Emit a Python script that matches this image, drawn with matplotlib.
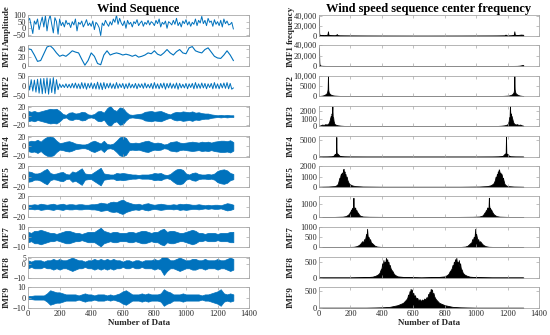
import numpy as np
import matplotlib
matplotlib.use("Agg")
import matplotlib.pyplot as plt
from matplotlib import ticker

plt.rcParams['font.family'] = ['Liberation Serif', 'DejaVu Serif']

# ---------------- data ----------------
# wind sequence, one value every 10 samples (0..1300)
wind = [60, 75, 20, -40, 55, 30, 70, -10, 40, 85,
        10, 95, -20, 60, 100, 30, -35, 80, 50, -45,
        70, 20, 45, 10, 60, 30, 40, 5, 50, 25,
        70, -20, 45, 30, 55, 10, 35, 65, 20, 40,
        15, 55, -10, 45, 30, 5, -55, 40, 20, 60,
        35, 15, 50, 25, 70, 45, 100, 30, 75, 40,
        20, 55, 0, 60, 30, 45, 10, 50, 35, 65,
        20, 40, 55, 15, 45, 30, 60, 25, 50, 40,
        20, 60, 35, 70, 10, 45, 30, 55, 0, 50,
        40, 25, 60, 30, 75, 20, 45, 10, 55, 35,
        65, 25, 50, 15, 45, 30, 70, 20, 60, 40,
        90, 35, 60, 20, 75, 45, 55, 15, 65, 30,
        50, 20, 60, 10, 70, 35, 55, 25, 30, 45,
        -5]

# IMF1, one value every 20 samples
imf1 = [40, 38, 25, 10, 12, 28, 44, 47, 40, 30, 22,
        25, 22, 28, 35, 32, 30, 15, 1, 12, 30, 22,
        5, 2, 25, 35, 25, 28, 30, 28, 25, 27, 25,
        22, 25, 20, 22, 25, 30, 28, 35, 27, 24, 30,
        38, 30, 25, 33, 38, 30, 28, 42, 45, 35, 32,
        30, 38, 42, 32, 22, 18, 17, 25, 35, 25, 12]

# IMF2 extrema, one every 10 samples
imf2 = [25, -20, 30, -25, 28, -30, 32, -35, 35, -38,
        36, -35, 38, -40, 35, -32, 40, -38, 30, -18,
        10, -8, 6, -8, 10, -9, 8, -10, 12, -10,
        14, -12, 10, -14, 16, -12, 14, -16, 12, -10,
        15, -14, 12, -15, 18, -16, 14, -18, 16, -14,
        12, -10, 14, -12, 10, -14, 16, -12, 10, -8,
        12, -14, 10, -12, 14, -10, 8, -10, 12, -14,
        10, -8, 10, -12, 14, -10, 8, -10, 12, -14,
        16, -12, 10, -14, 12, -10, 14, -16, 12, -10,
        14, -12, 10, -12, 14, -16, 12, -10, 8, -10,
        12, -14, 10, -8, 12, -14, 16, -12, 10, -12,
        14, -10, 12, -14, 10, -8, 12, -14, 16, -12,
        10, -14, 12, -10, 14, -12, 16, -14, 12, -16,
        -10]

# amplitude envelopes of the dense IMFs, one value every 20 samples
imf3_env = [12, 10, 12, 9, 11, 13, 15, 17, 16, 17, 12,
            5, 3, 8, 9, 6, 7, 10, 9, 4, 3, 5,
            11, 12, 8, 18, 24, 15, 12, 20, 19, 10, 4,
            3, 4, 5, 6, 10, 11, 12, 10, 11, 12, 9,
            6, 4, 8, 10, 9, 11, 10, 9, 11, 8, 9,
            7, 6, 6, 4, 3, 2, 3, 2, 3, 2, 2]
imf4_env = [10, 12, 11, 14, 10, 16, 20, 21, 19, 12, 7,
            8, 10, 11, 9, 6, 5, 4, 4, 6, 10, 12,
            9, 6, 12, 5, 4, 6, 12, 19, 21, 18, 8,
            7, 8, 7, 9, 11, 12, 9, 7, 8, 7, 4,
            5, 9, 10, 11, 8, 7, 8, 9, 10, 9, 8,
            10, 9, 10, 8, 10, 11, 12, 12, 11, 13, 9]
imf5_env = [10, 9, 6, 6, 8, 12, 15, 7, 5, 6, 8,
            9, 5, 4, 10, 8, 12, 16, 6, 5, 5, 9,
            13, 17, 6, 5, 4, 4, 7, 6, 7, 6, 5,
            4, 4, 3, 4, 4, 4, 5, 7, 6, 7, 4,
            3, 5, 10, 14, 15, 13, 6, 4, 7, 8, 5,
            4, 4, 5, 4, 6, 11, 13, 14, 12, 7, 5]
imf6_env = [4, 4, 5, 4, 6, 5, 4, 5, 6, 4, 5,
            6, 4, 5, 5, 4, 5, 5, 4, 4, 5, 5,
            6, 8, 7, 6, 9, 10, 9, 12, 14, 10, 8,
            6, 5, 6, 4, 6, 7, 5, 4, 5, 6, 5,
            4, 4, 5, 4, 6, 5, 6, 5, 4, 4, 5,
            4, 3, 4, 3, 4, 4, 3, 5, 7, 6, 4]
imf7_env = [5, 4, 6, 6, 7, 6, 5, 4, 4, 3, 4,
            5, 6, 6, 5, 4, 4, 3, 4, 5, 5, 5,
            7, 9, 6, 5, 4, 5, 5, 4, 4, 4, 5,
            5, 4, 5, 6, 6, 5, 4, 5, 5, 7, 8,
            5, 6, 6, 5, 4, 4, 5, 6, 7, 6, 4,
            4, 3, 4, 4, 4, 3, 4, 4, 4, 5, 5]
imf8_env = [3, 2, 3, 3, 3, 2, 3, 3, 4, 3, 4,
            3, 3, 4, 5, 4, 3, 3, 2, 3, 3, 4,
            3, 4, 3, 4, 3, 4, 3, 3, 2, 3, 3,
            2, 3, 3, 2, 3, 3, 3, 4, 3, 4, 8,
            5, 3, 3, 4, 5, 4, 3, 3, 4, 4, 3,
            3, 4, 3, 3, 3, 4, 3, 3, 4, 5, 4]
imf9_env = [1.5, 1.5, 2, 2, 2, 2, 4, 7, 6, 5, 5,
            4, 3, 3, 3, 3, 2, 3, 4, 3, 3, 2,
            3, 3, 3, 2, 3, 2, 3, 4, 6, 7, 5,
            3, 3, 3, 4, 3, 4, 3, 3, 3, 4, 8,
            6, 5, 3, 3, 3, 4, 3, 3, 3, 3, 3,
            2, 3, 3, 4, 5, 6, 8, 4, 3, 4, 3]

# spectra: (sample index, magnitude)
spec_wind = [(0, 38000), (1, 6000), (3, 2500), (6, 1800), (10, 1500), (20, 1800), (30, 1200),
             (40, 1500), (50, 2000), (54, 3000), (57, 9000), (60, 2500), (65, 1500), (80, 1200),
             (100, 1000), (108, 1500), (113, 3500), (118, 1200), (130, 800), (160, 700), (200, 600),
             (300, 400), (400, 300), (500, 250), (600, 200), (700, 200), (800, 250), (900, 300),
             (1000, 400), (1100, 500), (1140, 600), (1182, 800), (1187, 2500), (1192, 800),
             (1200, 700), (1220, 900), (1235, 1500), (1240, 2500), (1243, 9000), (1246, 2500),
             (1250, 2000), (1260, 1500), (1270, 1800), (1280, 2200), (1285, 2500), (1290, 2000),
             (1295, 2500), (1300, 1500)]
spec_imf1 = [(0, 36000), (1, 18000), (2, 8000), (3, 4000), (5, 2000), (8, 1200), (12, 700),
             (20, 400), (40, 200), (80, 100), (200, 50), (1100, 50), (1220, 100), (1260, 300),
             (1275, 700), (1285, 1200), (1292, 1800), (1297, 2200), (1300, 1500)]
spec_imf2 = [(0, 100), (10, 200), (20, 300), (30, 500), (40, 900), (45, 1200), (50, 1600),
             (53, 2500), (55, 3500), (57, 10000), (59, 3000), (62, 1800), (65, 1500), (70, 1000),
             (80, 600), (90, 400), (100, 300), (120, 200), (150, 100), (200, 50), (1100, 50),
             (1150, 100), (1180, 200), (1200, 300), (1210, 400), (1220, 600), (1230, 1000),
             (1235, 1500), (1238, 1800), (1241, 3000), (1243, 10000), (1245, 3500), (1247, 2500),
             (1250, 1600), (1255, 1200), (1260, 900), (1270, 500), (1280, 300), (1290, 200),
             (1300, 100)]
spec_imf3 = [(0, 100), (10, 150), (20, 250), (30, 200), (40, 300), (50, 250), (60, 400),
             (65, 600), (70, 1000), (75, 1400), (78, 1200), (80, 1700), (82, 1500), (85, 2650),
             (87, 1300), (90, 1200), (93, 700), (97, 400), (100, 300), (110, 200), (120, 150),
             (140, 100), (170, 60), (220, 40), (300, 20), (1000, 20), (1080, 40), (1130, 60),
             (1160, 100), (1180, 150), (1190, 200), (1200, 300), (1203, 400), (1207, 700),
             (1210, 1200), (1213, 1300), (1215, 2650), (1218, 1500), (1220, 1700), (1222, 1200),
             (1225, 1400), (1230, 1000), (1235, 600), (1240, 400), (1250, 250), (1260, 300),
             (1270, 200), (1280, 250), (1290, 150), (1300, 100)]
spec_imf4 = [(0, 30), (50, 50), (80, 100), (90, 200), (95, 500), (100, 800), (103, 600),
             (106, 900), (108, 1200), (110, 5900), (112, 1300), (115, 800), (118, 900),
             (122, 700), (126, 500), (130, 300), (140, 150), (160, 80), (200, 40), (300, 20),
             (1000, 20), (1100, 40), (1140, 80), (1160, 150), (1170, 300), (1174, 500),
             (1178, 700), (1182, 900), (1185, 800), (1188, 1300), (1190, 5900), (1192, 1200),
             (1194, 900), (1197, 600), (1200, 800), (1205, 500), (1210, 200), (1220, 100),
             (1250, 50), (1300, 30)]
spec_imf5 = [(0, 20), (60, 40), (100, 80), (110, 150), (120, 300), (125, 600), (130, 900),
             (133, 700), (136, 1100), (140, 1300), (143, 1000), (146, 1400), (150, 1200),
             (153, 1600), (156, 1750), (159, 1300), (162, 1500), (165, 1100), (168, 1250),
             (172, 900), (176, 1000), (180, 700), (185, 500), (190, 350), (198, 250), (210, 150),
             (230, 80), (280, 40), (400, 20), (900, 20), (1020, 40), (1070, 80), (1090, 150),
             (1102, 250), (1110, 350), (1115, 500), (1120, 700), (1124, 1000), (1128, 900),
             (1132, 1250), (1135, 1100), (1138, 1500), (1141, 1300), (1144, 1700), (1147, 1600),
             (1150, 1200), (1154, 1400), (1157, 1000), (1160, 1300), (1164, 1100), (1167, 700),
             (1170, 900), (1175, 600), (1180, 300), (1190, 150), (1200, 80), (1240, 40),
             (1300, 20)]
spec_imf6 = [(0, 10), (100, 20), (150, 40), (170, 80), (180, 150), (190, 250), (195, 350),
             (200, 450), (205, 600), (208, 500), (211, 700), (214, 650), (217, 900), (219, 1500),
             (221, 800), (224, 700), (227, 600), (230, 750), (234, 500), (238, 550), (242, 400),
             (247, 350), (252, 250), (258, 150), (265, 100), (280, 50), (320, 30), (500, 10),
             (800, 10), (980, 30), (1020, 50), (1035, 100), (1042, 150), (1048, 250), (1053, 350),
             (1058, 400), (1062, 550), (1066, 500), (1070, 750), (1073, 600), (1076, 700),
             (1079, 800), (1081, 1500), (1083, 900), (1086, 650), (1089, 700), (1092, 500),
             (1095, 600), (1100, 450), (1105, 350), (1110, 250), (1120, 150), (1130, 80),
             (1150, 40), (1200, 20), (1300, 10)]
spec_imf7 = [(0, 5), (150, 10), (220, 30), (240, 60), (255, 120), (265, 200), (275, 300),
             (282, 250), (287, 400), (292, 350), (296, 500), (300, 650), (303, 550), (306, 900),
             (309, 600), (312, 450), (316, 500), (320, 350), (325, 400), (330, 250), (338, 200),
             (345, 150), (355, 80), (370, 40), (400, 20), (600, 5), (700, 5), (900, 20),
             (930, 40), (945, 80), (955, 150), (962, 200), (970, 250), (975, 400), (980, 350),
             (984, 500), (988, 450), (991, 600), (994, 900), (997, 550), (1000, 650), (1004, 500),
             (1008, 350), (1013, 400), (1018, 250), (1025, 300), (1035, 200), (1045, 120),
             (1060, 60), (1080, 30), (1150, 10), (1300, 5)]
spec_imf8 = [(0, 5), (200, 5), (300, 15), (340, 30), (360, 60), (375, 100), (385, 150),
             (392, 250), (398, 300), (402, 450), (406, 350), (410, 550), (414, 400), (418, 500),
             (422, 450), (426, 620), (430, 500), (434, 580), (438, 450), (442, 500), (446, 350),
             (450, 400), (455, 300), (460, 250), (468, 200), (476, 120), (485, 80), (500, 40),
             (540, 20), (650, 5), (760, 20), (800, 40), (815, 80), (824, 120), (832, 200),
             (840, 250), (845, 300), (850, 400), (854, 350), (858, 500), (862, 450), (866, 580),
             (870, 500), (874, 620), (878, 450), (882, 500), (886, 400), (890, 550), (894, 350),
             (898, 450), (902, 300), (908, 250), (915, 150), (925, 100), (940, 60), (960, 30),
             (1000, 15), (1100, 5), (1300, 5)]
spec_imf9 = [(0, 5), (300, 5), (400, 15), (450, 30), (480, 60), (500, 80), (520, 120),
             (535, 150), (545, 200), (555, 250), (562, 300), (567, 400), (572, 350), (576, 500),
             (580, 450), (583, 570), (587, 480), (591, 550), (595, 400), (600, 450), (605, 330),
             (610, 380), (617, 280), (625, 300), (632, 220), (640, 260), (648, 200), (655, 250),
             (662, 220), (670, 280), (677, 250), (684, 320), (690, 300), (695, 420), (699, 380),
             (703, 480), (707, 430), (711, 570), (715, 500), (719, 550), (723, 400), (728, 450),
             (733, 350), (738, 300), (745, 250), (755, 200), (765, 150), (780, 120), (800, 80),
             (820, 60), (850, 30), (900, 15), (1000, 5), (1300, 5)]

left_labels = ['Amplitude', 'IMF1', 'IMF2', 'IMF3', 'IMF4', 'IMF5', 'IMF6', 'IMF7', 'IMF8', 'IMF9']
right_labels = ['frequency', 'IMF1', 'IMF2', 'IMF3', 'IMF4', 'IMF5', 'IMF6', 'IMF7', 'IMF8', 'IMF9']
left_ylims = [(-57, 100), (-1, 48), (-50, 50), (-24, 24), (-22, 22), (-20, 20), (-20, 20),
              (-10, 10), (-10, 5.5), (-10, 10)]
left_yticks = [[-50, 0, 50, 100], [0, 20, 40], [-50, 0, 50], [-20, 0, 20], [-20, 0, 20],
               [-20, 0, 20], [-20, 0, 20], [-10, 0, 10], [-10, 0, 5], [-10, 0, 10]]
right_ylims = [42000, 40000, 10000, 2700, 6200, 2000, 1600, 1000, 650, 620]
right_yticks = [[0, 20000, 40000], [0, 20000, 40000], [0, 5000, 10000], [0, 1000, 2000],
                [0, 5000], [0, 1000, 2000], [0, 1000], [0, 500, 1000], [0, 500], [0, 500]]
xticks = [0, 200, 400, 600, 800, 1000, 1200, 1400]

BLUE = '#0072BD'
AXC = '#a8a8a8'
TXT = '#262626'


def style(ax):
    for s in ax.spines.values():
        s.set_color(AXC)
        s.set_linewidth(0.6)
    ax.tick_params(direction='in', length=2, width=0.5, color=AXC, labelsize=6,
                   labelcolor=TXT, top=True, right=True, pad=1.5)
    ax.set_xlim(0, 1400)
    ax.set_xticks(xticks)


def fmt(v, pos):
    return f"{v:,.0f}" if v >= 10000 else f"{v:.0f}"


fig = plt.figure(figsize=(5.5, 3.35), dpi=100)
gl = fig.add_gridspec(10, 1, left=0.051, right=0.453, top=0.955, bottom=0.081, hspace=0.46)
gr = fig.add_gridspec(10, 1, left=0.580, right=0.980, top=0.955, bottom=0.081, hspace=0.46)

envs = [imf3_env, imf4_env, imf5_env, imf6_env, imf7_env, imf8_env, imf9_env]
specs = [spec_wind, spec_imf1, spec_imf2, spec_imf3, spec_imf4, spec_imf5, spec_imf6,
         spec_imf7, spec_imf8, spec_imf9]

for i in range(10):
    ax = fig.add_subplot(gl[i])
    style(ax)
    if i == 0:
        ax.plot(np.arange(len(wind)) * 10, wind, color=BLUE, lw=0.7)
    elif i == 1:
        ax.plot(np.arange(len(imf1)) * 20, imf1, color=BLUE, lw=0.8)
    elif i == 2:
        ax.plot(np.arange(len(imf2)) * 10, imf2, color=BLUE, lw=0.7)
    else:
        e = np.array(envs[i - 3], dtype=float)
        xe = np.arange(len(e)) * 20
        ax.fill_between(xe, -e, e, color=BLUE, lw=0.5)
    ax.set_ylim(*left_ylims[i])
    ax.set_yticks(left_yticks[i])
    if i == 8:
        ax.tick_params(axis='y', labelsize=5.5)
    ax.set_ylabel(left_labels[i], fontsize=6.5, fontweight='bold', color=TXT)
    ax.yaxis.set_label_coords(-0.077, 0.5)
    if i == 0:
        ax.set_title('Wind Sequence', fontsize=9, fontweight='bold', pad=2.5)
    if i < 9:
        ax.tick_params(labelbottom=False)
    else:
        ax.set_xlabel('Number of Data', fontsize=6.5, fontweight='bold', color=TXT, labelpad=1)

    ax = fig.add_subplot(gr[i])
    style(ax)
    sx, sy = np.array(specs[i], dtype=float).T
    ax.fill_between(sx, 0, sy, color='k', lw=0.6)
    ax.set_ylim(0, right_ylims[i])
    ax.set_yticks(right_yticks[i])
    ax.yaxis.set_major_formatter(ticker.FuncFormatter(fmt))
    ax.set_ylabel(right_labels[i], fontsize=6.5, fontweight='bold', color=TXT)
    ax.yaxis.set_label_coords(-0.109, 0.5)
    if i == 0:
        ax.set_title('Wind speed sequence center frequency', fontsize=9, fontweight='bold', pad=2.5)
    if i < 9:
        ax.tick_params(labelbottom=False)
    else:
        ax.set_xlabel('Number of Data', fontsize=6.5, fontweight='bold', color=TXT, labelpad=1)

fig.savefig('out.png', dpi=100)
